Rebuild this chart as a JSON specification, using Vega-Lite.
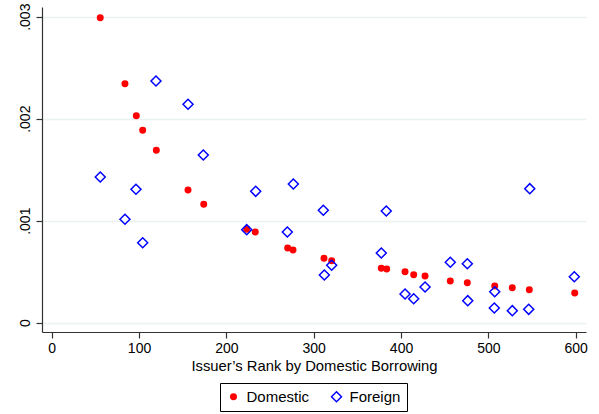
{
  "$schema": "https://vega.github.io/schema/vega-lite/v6.json",
  "width": 544,
  "height": 325,
  "autosize": {"type": "none"},
  "padding": {"left": 42, "top": 7, "right": 13, "bottom": 82},
  "background": "white",
  "config": {
    "view": {"stroke": null},
    "font": "Liberation Sans",
    "axis": {"labelFont": "Liberation Sans", "titleFont": "Liberation Sans", "labelColor": "#000", "titleColor": "#000"},
    "legend": {"labelFont": "Liberation Sans", "labelColor": "#000"}
  },
  "data": {
    "values": [
      {"rank": 55.6, "value": 0.00299, "series": "Domestic"},
      {"rank": 83.9, "value": 0.002343, "series": "Domestic"},
      {"rank": 96.9, "value": 0.002029, "series": "Domestic"},
      {"rank": 104.2, "value": 0.001886, "series": "Domestic"},
      {"rank": 119.8, "value": 0.00169, "series": "Domestic"},
      {"rank": 156.1, "value": 0.001301, "series": "Domestic"},
      {"rank": 174.1, "value": 0.001161, "series": "Domestic"},
      {"rank": 223.3, "value": 0.000916, "series": "Domestic"},
      {"rank": 233.1, "value": 0.000889, "series": "Domestic"},
      {"rank": 270.2, "value": 0.000732, "series": "Domestic"},
      {"rank": 276.3, "value": 0.000713, "series": "Domestic"},
      {"rank": 311.8, "value": 0.000631, "series": "Domestic"},
      {"rank": 320.6, "value": 0.000608, "series": "Domestic"},
      {"rank": 377.4, "value": 0.000533, "series": "Domestic"},
      {"rank": 383.6, "value": 0.000526, "series": "Domestic"},
      {"rank": 404.6, "value": 0.0005, "series": "Domestic"},
      {"rank": 414.5, "value": 0.000471, "series": "Domestic"},
      {"rank": 427.5, "value": 0.000458, "series": "Domestic"},
      {"rank": 456.4, "value": 0.000409, "series": "Domestic"},
      {"rank": 475.9, "value": 0.000392, "series": "Domestic"},
      {"rank": 507.3, "value": 0.00036, "series": "Domestic"},
      {"rank": 527.4, "value": 0.000343, "series": "Domestic"},
      {"rank": 546.9, "value": 0.000324, "series": "Domestic"},
      {"rank": 598.9, "value": 0.000291, "series": "Domestic"},
      {"rank": 55.6, "value": 0.001428, "series": "Foreign"},
      {"rank": 83.9, "value": 0.001014, "series": "Foreign"},
      {"rank": 96.5, "value": 0.001308, "series": "Foreign"},
      {"rank": 104.2, "value": 0.000784, "series": "Foreign"},
      {"rank": 119.4, "value": 0.00237, "series": "Foreign"},
      {"rank": 156.1, "value": 0.002141, "series": "Foreign"},
      {"rank": 173.6, "value": 0.001644, "series": "Foreign"},
      {"rank": 223.3, "value": 0.000912, "series": "Foreign"},
      {"rank": 233.6, "value": 0.001288, "series": "Foreign"},
      {"rank": 269.8, "value": 0.000889, "series": "Foreign"},
      {"rank": 276.7, "value": 0.00136, "series": "Foreign"},
      {"rank": 311.0, "value": 0.001102, "series": "Foreign"},
      {"rank": 312.2, "value": 0.000468, "series": "Foreign"},
      {"rank": 320.6, "value": 0.000563, "series": "Foreign"},
      {"rank": 377.4, "value": 0.000683, "series": "Foreign"},
      {"rank": 383.1, "value": 0.001095, "series": "Foreign"},
      {"rank": 404.6, "value": 0.000281, "series": "Foreign"},
      {"rank": 414.5, "value": 0.000235, "series": "Foreign"},
      {"rank": 427.5, "value": 0.00035, "series": "Foreign"},
      {"rank": 456.4, "value": 0.000592, "series": "Foreign"},
      {"rank": 475.9, "value": 0.000578, "series": "Foreign"},
      {"rank": 476.4, "value": 0.000216, "series": "Foreign"},
      {"rank": 507.3, "value": 0.000304, "series": "Foreign"},
      {"rank": 506.8, "value": 0.000144, "series": "Foreign"},
      {"rank": 527.4, "value": 0.000118, "series": "Foreign"},
      {"rank": 546.2, "value": 0.000131, "series": "Foreign"},
      {"rank": 547.4, "value": 0.001314, "series": "Foreign"},
      {"rank": 598.4, "value": 0.000451, "series": "Foreign"}
    ]
  },
  "mark": {"type": "point", "strokeWidth": 1.5, "opacity": 1},
  "encoding": {
    "x": {
      "field": "rank", "type": "quantitative",
      "scale": {"domain": [-11.1, 611.8], "nice": false, "zero": false},
      "axis": {
        "values": [0, 100, 200, 300, 400, 500, 600],
        "grid": false,
        "title": "Issuer’s Rank by Domestic Borrowing",
        "titleFontSize": 14.8, "titleFontWeight": "normal", "titlePadding": 3,
        "labelFontSize": 14, "labelPadding": 3,
        "tickSize": 6, "tickColor": "#333", "domainColor": "#333", "domainWidth": 1.2, "tickWidth": 1.2
      }
    },
    "y": {
      "field": "value", "type": "quantitative",
      "scale": {"domain": [-0.0000912, 0.003095], "nice": false, "zero": false},
      "axis": {
        "values": [0, 0.001, 0.002, 0.003],
        "labelExpr": "datum.value == 0 ? '0' : replace(format(datum.value, '.3f'), '0.', '.')",
        "title": null,
        "grid": true, "gridColor": "#eaf2f3", "gridWidth": 1.5,
        "labelFontSize": 14, "labelAngle": -90, "labelAlign": "center", "labelBaseline": "bottom", "labelPadding": 4,
        "tickSize": 6, "tickColor": "#333", "domainColor": "#333", "domainWidth": 1.2, "tickWidth": 1.2
      }
    },
    "shape": {
      "field": "series", "type": "nominal",
      "scale": {"domain": ["Domestic", "Foreign"], "range": ["circle", "diamond"]}
    },
    "stroke": {
      "field": "series", "type": "nominal",
      "scale": {"domain": ["Domestic", "Foreign"], "range": ["#ff0000", "#0000ff"]},
      "legend": {
        "orient": "none", "legendX": 178, "legendY": 376, "direction": "horizontal",
        "title": null, "strokeColor": "#000", "padding": 6,
        "labelFontSize": 15, "labelOffset": 5.5, "columnPadding": 18, "symbolStrokeWidth": 1.5
      }
    },
    "fill": {
      "field": "series", "type": "nominal",
      "scale": {"domain": ["Domestic", "Foreign"], "range": ["#ff0000", "transparent"]}
    },
    "size": {
      "field": "series", "type": "nominal",
      "scale": {"domain": ["Domestic", "Foreign"], "range": [30, 100]}
    }
  }
}
